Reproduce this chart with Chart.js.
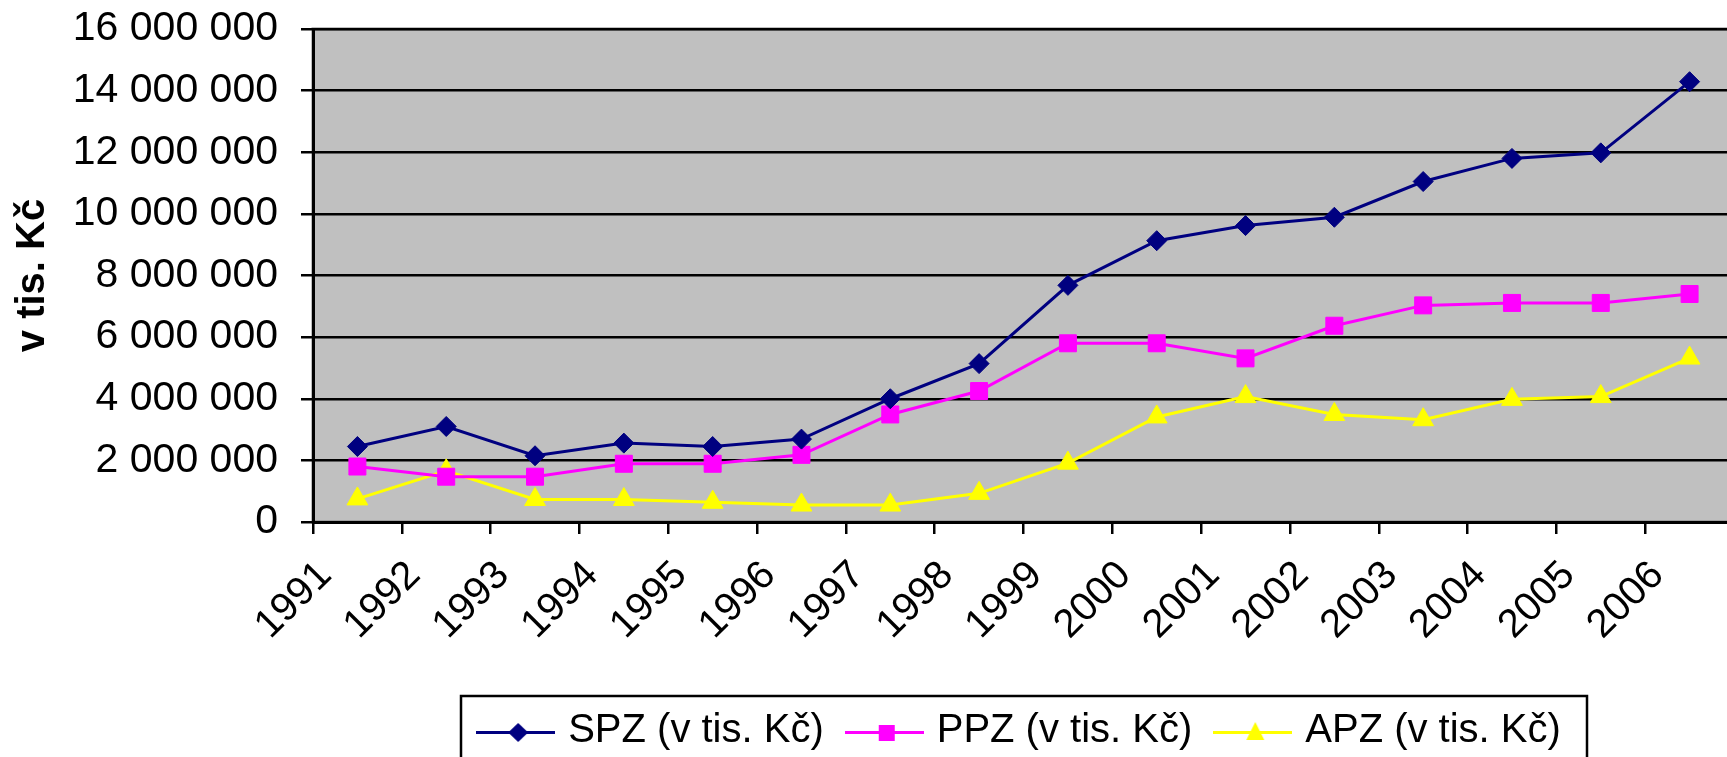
<!DOCTYPE html>
<html>
<head>
<meta charset="utf-8">
<script src="https://cdn.jsdelivr.net/npm/chart.js@4/dist/chart.umd.min.js"></script>
<style>
  html, body { margin: 0; padding: 0; background: #fff; overflow: hidden; }
</style>
</head>
<body>
<canvas id="zpChart" width="1747" height="757"></canvas>
<script>
// data
const years = ['1991', '1992', '1993', '1994', '1995', '1996', '1997', '1998',
               '1999', '2000', '2001', '2002', '2003', '2004', '2005', '2006'];
const spz = [2450000, 3100000, 2150000, 2560000, 2450000, 2690000, 4000000, 5140000,
             7680000, 9130000, 9620000, 9890000, 11050000, 11800000, 11980000, 14290000];
const ppz = [1800000, 1470000, 1470000, 1890000, 1890000, 2180000, 3490000, 4250000,
             5800000, 5800000, 5310000, 6370000, 7030000, 7110000, 7110000, 7400000];
const apz = [750000, 1660000, 730000, 730000, 640000, 550000, 550000, 930000,
             1910000, 3410000, 4070000, 3490000, 3320000, 3980000, 4070000, 5320000];
const seriesNames = ['SPZ (v tis. Kč)', 'PPZ (v tis. Kč)', 'APZ (v tis. Kč)'];

const FONT = "'Liberation Sans', Arial, sans-serif";

// number with space as thousands separator
function fmt(v) {
    return String(v).replace(/\B(?=(\d{3})+(?!\d))/g, ' ');
}

// small line + marker picture for the legend
function legendIcon(color, shape) {
    const c = document.createElement('canvas');
    c.width = 79; c.height = 40;
    const ctx = c.getContext('2d');
    ctx.strokeStyle = color;
    ctx.fillStyle = color;
    ctx.lineWidth = 3;
    ctx.beginPath();
    ctx.moveTo(0, 21.5); ctx.lineTo(79, 21.5);
    ctx.stroke();
    ctx.beginPath();
    if (shape === 'diamond') {
        ctx.moveTo(42, 12); ctx.lineTo(52, 21.5); ctx.lineTo(42, 31); ctx.lineTo(32, 21.5);
    } else if (shape === 'square') {
        ctx.rect(34, 14, 16, 16);
    } else {
        ctx.moveTo(42, 11); ctx.lineTo(51, 29); ctx.lineTo(33, 29);
    }
    ctx.closePath();
    ctx.fill();
    return c;
}

const colors = ['#000080', '#FF00FF', '#FFFF00'];
const icons = [legendIcon(colors[0], 'diamond'), legendIcon(colors[1], 'square'), legendIcon(colors[2], 'triangle')];

// grey plot area + border, legend frame
const plotFrame = {
    id: 'plotFrame',
    beforeDraw(chart) {
        const a = chart.chartArea;
        const ctx = chart.ctx;
        ctx.save();
        ctx.fillStyle = '#C0C0C0';
        ctx.fillRect(a.left, a.top, a.right - a.left, a.bottom - a.top);
        ctx.strokeStyle = '#808080';
        ctx.lineWidth = 3;
        ctx.strokeRect(a.left, a.top, a.right - a.left, a.bottom - a.top);
        ctx.restore();
    },
    afterLayout(chart) {
        // put the legend where the reference has it
        const lg = chart.legend;
        lg.left = 444; lg.right = 1600; lg.width = 1156;
        lg.top = 683;
    },
    afterDraw(chart) {
        const ctx = chart.ctx;
        ctx.save();
        ctx.strokeStyle = '#000';
        ctx.lineWidth = 2.5;
        ctx.strokeRect(461, 696, 1126, 80);
        ctx.restore();
    }
};

function makeSet(i, data, style, radius) {
    return {
        label: seriesNames[i],
        data: data,
        borderColor: colors[i],
        backgroundColor: colors[i],
        borderWidth: 3,
        pointStyle: style,
        pointRadius: radius,
        pointHoverRadius: radius,
        pointBorderWidth: 1,
        tension: 0
    };
}

new Chart(document.getElementById('zpChart'), {
    type: 'line',
    data: {
        labels: years,
        datasets: [
            makeSet(0, spz, 'rectRot', 10),
            makeSet(1, ppz, 'rect', 12),
            makeSet(2, apz, 'triangle', 12)
        ]
    },
    options: {
        responsive: false,
        animation: false,
        devicePixelRatio: 1,
        layout: { padding: { top: 29, right: 0, left: 0, bottom: 0 } },
        plugins: {
            tooltip: { enabled: false },
            legend: {
                position: 'bottom',
                labels: {
                    usePointStyle: true,
                    pointStyleWidth: 65,
                    padding: 28,
                    color: '#000',
                    font: { family: FONT, size: 40 },
                    generateLabels(chart) {
                        return chart.data.datasets.map((ds, i) => ({
                            text: ds.label,
                            pointStyle: icons[i],
                            fillStyle: colors[i],
                            strokeStyle: colors[i],
                            lineWidth: 0,
                            hidden: false,
                            datasetIndex: i,
                            fontColor: '#000'
                        }));
                    }
                }
            }
        },
        scales: {
            x: {
                offset: true,
                grid: {
                    offset: true,
                    drawOnChartArea: false,
                    color: '#000',
                    lineWidth: 2.5,
                    tickLength: 12
                },
                border: { color: '#000', width: 3 },
                ticks: {
                    color: '#000',
                    font: { family: FONT, size: 40 },
                    maxRotation: 45,
                    minRotation: 45,
                    labelOffset: -32,
                    padding: 18,
                    autoSkip: false
                },
                afterFit(scale) {
                    scale.height = 235 - scale.chart.legend.height;
                    scale.paddingLeft = 0;
                    scale.paddingRight = 0;
                }
            },
            y: {
                min: 0,
                max: 16000000,
                grid: {
                    color: '#000',
                    lineWidth: 2.5,
                    tickLength: 12
                },
                border: { color: '#000', width: 3 },
                ticks: {
                    stepSize: 2000000,
                    color: '#000',
                    padding: 23,
                    font: { family: FONT, size: 41 },
                    callback: (v) => fmt(v)
                },
                title: {
                    display: true,
                    text: 'v tis. Kč',
                    color: '#000',
                    font: { family: FONT, size: 40, weight: 'bold' },
                    padding: { top: 9, bottom: 0 }
                },
                afterFit(scale) {
                    scale.width = 313;
                    scale.paddingTop = 0;
                    scale.paddingBottom = 0;
                }
            }
        }
    },
    plugins: [plotFrame]
});
</script>
</body>
</html>
